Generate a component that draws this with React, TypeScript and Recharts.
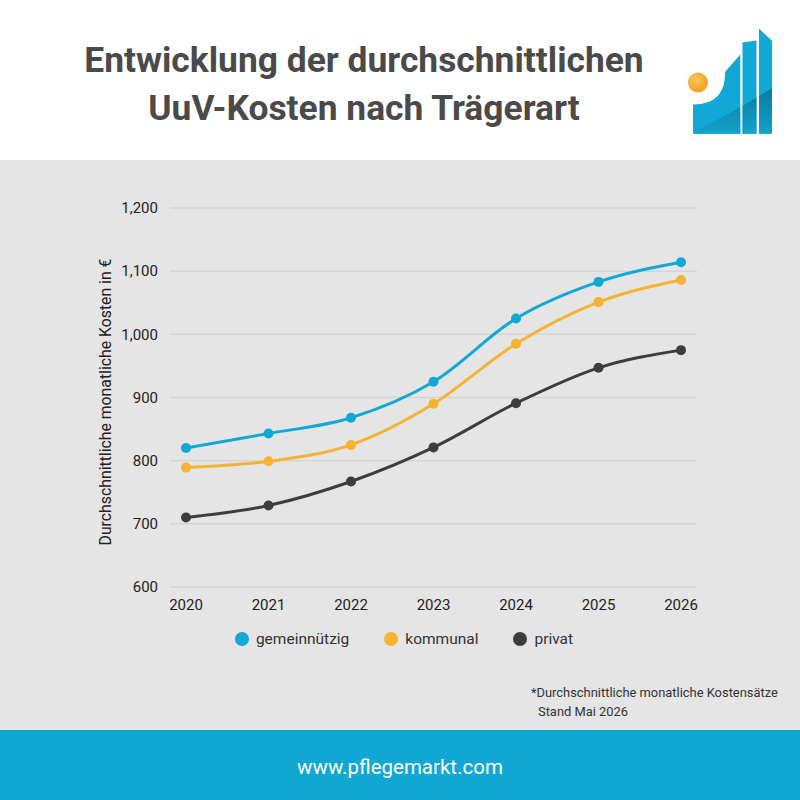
import { CartesianGrid, Legend, Line, LineChart, XAxis, YAxis } from "recharts"

const years = ["2020", "2021", "2022", "2023", "2024", "2025", "2026"]
const gemeinnuetzig = [820, 843, 868, 925, 1025, 1083, 1114]
const kommunal = [789, 799, 825, 890, 985, 1051, 1086]
const privat = [710, 729, 767, 821, 891, 947, 975]
const yTicks = [600, 700, 800, 900, 1000, 1100, 1200]

const series = [
  { key: "gemeinnuetzig", name: "gemeinnützig", color: "#12a8d5" },
  { key: "kommunal", name: "kommunal", color: "#f6b232" },
  { key: "privat", name: "privat", color: "#3d3d3d" },
]

const data = years.map((year, i) => ({
  year,
  gemeinnuetzig: gemeinnuetzig[i],
  kommunal: kommunal[i],
  privat: privat[i],
}))

const FONT = "Roboto, 'Noto Sans', sans-serif"

function Logo() {
  return (
    <svg width={800} height={160} style={{ position: "absolute", left: 0, top: 0 }}>
      <defs>
        <clipPath id="logoClip">
          <path d="M693,104.5 Q726,104 725,72 L740.3,54.5 L740.3,133.8 L693,133.8 Z" />
          <path d="M742.5,42.5 L756.5,40.5 L756.5,133.8 L742.5,133.8 Z" />
          <path d="M759,28.6 L772,40.7 L772,133.8 L759,133.8 Z" />
        </clipPath>
        <linearGradient id="shade" x1="0" y1="0" x2="0" y2="1">
          <stop offset="0%" stopColor="#0a6d8c" />
          <stop offset="100%" stopColor="#12a8d5" />
        </linearGradient>
        <radialGradient id="sun" cx="0.4" cy="0.35" r="0.7">
          <stop offset="0%" stopColor="#fcc85a" />
          <stop offset="100%" stopColor="#f29a1c" />
        </radialGradient>
      </defs>
      <g clipPath="url(#logoClip)">
        <rect x={690} y={20} width={90} height={120} fill="#12a8d5" />
        <path d="M690,134 Q735,112 775,86 L775,140 L690,140 Z" fill="url(#shade)" opacity={0.8} />
      </g>
      <circle cx={698} cy={82.5} r={10} fill="url(#sun)" />
    </svg>
  )
}

function renderLegend() {
  return (
    <div
      style={{
        display: "flex",
        justifyContent: "center",
        gap: 35,
        paddingLeft: 8,
        fontFamily: FONT,
        fontSize: 15.5,
        color: "#333",
      }}
    >
      {series.map((s) => (
        <div key={s.key} style={{ display: "flex", alignItems: "center", gap: 7 }}>
          <span
            style={{
              width: 14,
              height: 14,
              borderRadius: "50%",
              background: s.color,
              display: "inline-block",
            }}
          />
          <span>{s.name}</span>
        </div>
      ))}
    </div>
  )
}

// rotated axis title, centred on the plot height
function YLabel(props: any) {
  const { viewBox } = props
  const x = viewBox.x + 15
  const y = 402 - 160
  return (
    <text
      x={x}
      y={y}
      transform={`rotate(-90, ${x}, ${y})`}
      textAnchor="middle"
      dominantBaseline="central"
      fontFamily={FONT}
      fontSize={15.8}
      fill="#222"
    >
      Durchschnittliche monatliche Kosten in €
    </text>
  )
}

export default function App() {
  return (
    <div
      style={{
        position: "absolute",
        left: 0,
        top: 0,
        width: 800,
        height: 800,
        background: "#fff",
        fontFamily: FONT,
        overflow: "hidden",
      }}
    >
      <div
        style={{
          position: "absolute",
          left: 0,
          top: 0,
          width: 728,
          height: 160,
          textAlign: "center",
          color: "#4a4a4a",
          fontWeight: 700,
          fontSize: 35.4,
          lineHeight: "48px",
          paddingTop: 36,
          boxSizing: "border-box",
        }}
      >
        <div>Entwicklung der durchschnittlichen</div>
        <div>UuV-Kosten nach Trägerart</div>
      </div>
      <Logo />

      <div style={{ position: "absolute", left: 0, top: 160, width: 800, height: 570, background: "#e5e5e5" }}>
        <LineChart
          width={800}
          height={520}
          data={data}
          margin={{ top: 48, right: 103, left: 90, bottom: 32 }}
        >
          <CartesianGrid vertical={false} stroke="#d5d5d5" strokeWidth={1.5} />
          <XAxis
            dataKey="year"
            axisLine={false}
            tickLine={false}
            height={43}
            tickMargin={6}
            padding={{ left: 16, right: 16 }}
            tick={{ fill: "#222", fontSize: 15, fontFamily: FONT }}
          />
          <YAxis
            width={80}
            domain={[600, 1200]}
            ticks={yTicks}
            axisLine={false}
            tickLine={false}
            tickMargin={6}
            tickFormatter={(v: number) => v.toLocaleString("en-US")}
            tick={{ fill: "#222", fontSize: 15, fontFamily: FONT }}
            label={<YLabel />}
          />
          <Legend
            verticalAlign="bottom"
            content={renderLegend}
            wrapperStyle={{ left: 0, width: 800 }}
          />
          {series.map((s) => (
            <Line
              key={s.key}
              type="monotone"
              dataKey={s.key}
              name={s.name}
              stroke={s.color}
              strokeWidth={3}
              dot={{ r: 5, fill: s.color, stroke: s.color, strokeWidth: 0 }}
              activeDot={false}
              isAnimationActive={false}
            />
          ))}
        </LineChart>

        <div
          style={{
            position: "absolute",
            left: 531,
            top: 523,
            fontSize: 12.9,
            lineHeight: "19px",
            color: "#333",
          }}
        >
          <div>*Durchschnittliche monatliche Kostensätze</div>
          <div style={{ paddingLeft: 7 }}>Stand Mai 2026</div>
        </div>
      </div>

      <div
        style={{
          position: "absolute",
          left: 0,
          top: 730,
          width: 800,
          height: 70,
          background: "#10a7d3",
          color: "#fff",
          fontSize: 20.5,
          display: "flex",
          alignItems: "center",
          justifyContent: "center",
          paddingTop: 4,
          boxSizing: "border-box",
        }}
      >
        www.pflegemarkt.com
      </div>
    </div>
  )
}
